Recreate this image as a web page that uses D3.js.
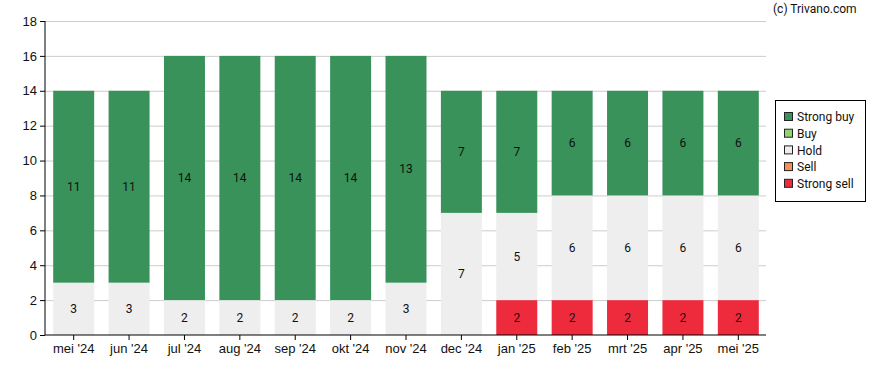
<!DOCTYPE html>
<html>
<head>
<meta charset="utf-8">
<script src="https://cdn.jsdelivr.net/npm/d3@7"></script>
<style>
  body { margin: 0; background: #fff; }
  svg { font-family: Roboto, "Liberation Sans", Arial, sans-serif; }
  .gridline line { stroke: #cccccc; }
  .gridline .domain { display: none; }
  .axis text { font-size: 13px; fill: #111; }
  .axis line, .axis path { stroke: #000; }
  .seglabel { font-size: 12px; fill: #111; text-anchor: middle; }
</style>
</head>
<body>
<script>
 ///////////////////////////////////////////////////////
 // data

 var months = ["mei '24", "jun '24", "jul '24", "aug '24", "sep '24", "okt '24", "nov '24",
   "dec '24", "jan '25", "feb '25", "mrt '25", "apr '25", "mei '25"];
 var strongBuy = [11, 11, 14, 14, 14, 14, 13, 7, 7, 6, 6, 6, 6];
 var buy = [0, 0, 0, 0, 0, 0, 0, 0, 0, 0, 0, 0, 0];
 var hold = [3, 3, 2, 2, 2, 2, 3, 7, 5, 6, 6, 6, 6];
 var sell = [0, 0, 0, 0, 0, 0, 0, 0, 0, 0, 0, 0, 0];
 var strongSell = [0, 0, 0, 0, 0, 0, 0, 0, 2, 2, 2, 2, 2];
 var yTicks = [0, 2, 4, 6, 8, 10, 12, 14, 16, 18];

 var seriesNames = ["Strong buy", "Buy", "Hold", "Sell", "Strong sell"];
 var seriesColors = ["#38925a", "#92d36e", "#eeeeee", "#f59150", "#ee2a3d"];

 // table for d3.stack, bottom to top = strong sell ... strong buy
 var data = months.map(function(m, i) {
   return {
     month: m,
     "Strong sell": strongSell[i],
     "Sell": sell[i],
     "Hold": hold[i],
     "Buy": buy[i],
     "Strong buy": strongBuy[i]
   };
 });

 ///////////////////////////////////////////////////////
 // margins

 var w = 888;
 var h = 370;
 var svg = d3.select("body").append("svg")
   .attr("width", w)
   .attr("height", h);

 var plotLeft = 45, plotRight = 766, plotTop = 21, plotBottom = 335;

 ///////////////////////////////////////////////////////
 // scales

 var x = d3.scaleBand()
   .domain(months)
   .range([plotLeft + 1, plotRight])
   .paddingInner(0.26)
   .paddingOuter(0.13);
 var y = d3.scaleLinear()
   .domain([0, 18])
   .range([plotBottom, plotTop]);
 var color = d3.scaleOrdinal()
   .domain(seriesNames)
   .range(seriesColors);

 ///////////////////////////////////////////////////////
 // gridlines + bars

 svg.append("g")
   .classed("gridline", true)
   .attr("transform", "translate(" + plotLeft + ",0)")
   .call(d3.axisLeft(y).tickValues(yTicks.slice(1)).tickFormat("").tickSize(-(plotRight - plotLeft)));

 var stackOrder = ["Strong sell", "Sell", "Hold", "Buy", "Strong buy"];
 var stacked = d3.stack().keys(stackOrder)(data);

 var layers = svg.selectAll(".layer")
   .data(stacked)
   .enter().append("g")
   .attr("class", "layer")
   .style("fill", function(d) { return color(d.key); });

 layers.selectAll("rect")
   .data(function(d) { return d; })
   .enter().append("rect")
   .attr("x", function(d) { return x(d.data.month); })
   .attr("width", x.bandwidth())
   .attr("y", function(d) { return y(d[1]); })
   .attr("height", function(d) { return y(d[0]) - y(d[1]); });

 // value labels in the middle of each segment
 layers.selectAll("text")
   .data(function(d) { return d.filter(function(s) { return s[1] - s[0] > 0; }); })
   .enter().append("text")
   .attr("class", "seglabel")
   .style("fill", "#111")
   .attr("x", function(d) { return x(d.data.month) + x.bandwidth() / 2; })
   .attr("y", function(d) { return y((d[0] + d[1]) / 2); })
   .attr("dy", "0.35em")
   .text(function(d) { return d[1] - d[0]; });

 ///////////////////////////////////////////////////////
 // axes

 svg.append("g")
   .classed("axis", true)
   .attr("transform", "translate(" + plotLeft + ",0)")
   .call(d3.axisLeft(y).tickValues(yTicks).tickSize(5).tickPadding(3))
   .select(".domain").attr("d", "M0," + plotTop + "V" + plotBottom);

 svg.append("g")
   .classed("axis", true)
   .attr("transform", "translate(0," + plotBottom + ")")
   .call(d3.axisBottom(x).tickSize(5).tickPadding(4).tickSizeOuter(0))
   .select(".domain").attr("d", "M" + plotLeft + ",0H" + plotRight);

 ///////////////////////////////////////////////////////
 // credit + legend

 svg.append("text")
   .attr("x", 773)
   .attr("y", 13)
   .style("font-size", "12px")
   .style("fill", "#111")
   .text("(c) Trivano.com");

 var legend = svg.append("g").attr("transform", "translate(775,100)");
 legend.append("rect")
   .attr("x", 0.5).attr("y", 0.5)
   .attr("width", 90).attr("height", 101)
   .style("fill", "#fff").style("stroke", "#000");

 var items = legend.selectAll(".item")
   .data(seriesNames)
   .enter().append("g")
   .attr("class", "item")
   .attr("transform", function(d, i) { return "translate(9," + (17 + i * 16.7) + ")"; });
 items.append("rect")
   .attr("x", 0.5).attr("y", -4.5)
   .attr("width", 8).attr("height", 8)
   .style("fill", function(d) { return color(d); })
   .style("stroke", "#222");
 items.append("text")
   .attr("x", 13)
   .attr("dy", "0.35em")
   .style("font-size", "12px")
   .style("fill", "#111")
   .text(function(d) { return d; });
</script>
</body>
</html>
